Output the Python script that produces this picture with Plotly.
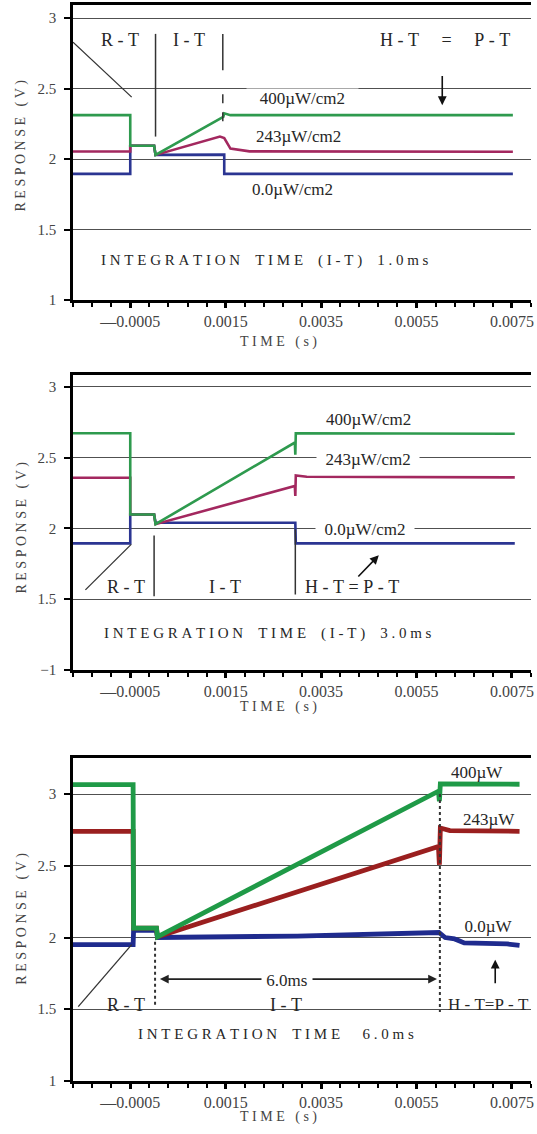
import plotly.graph_objects as go

NB = "\u00a0"
FONT = "Liberation Serif, Times New Roman, DejaVu Serif, serif"
TXT = "#262626"
TICK = "#444444"


def spaced(s, gap=1, word=4):
    return (NB * word).join((NB * gap).join(list(w)) for w in s.split(" "))


def pad(s, n=2):
    return NB * n + s + NB * n


# ---------------- data (time in s, response in V) ----------------
# panel 1 : integration time 1.0 ms
t1_400 = [-0.0017, -0.0005, -0.0005, 0.0000, 0.00003, 0.00145, 0.00147, 0.0016, 0.00752]
v1_400 = [2.312, 2.312, 2.095, 2.095, 2.030, 2.300, 2.325, 2.312, 2.312]
t1_243 = [-0.0017, -0.0005, -0.0005, 0.0000, 0.00003, 0.00138, 0.00147, 0.0016, 0.0020, 0.00752]
v1_243 = [2.054, 2.054, 2.095, 2.095, 2.030, 2.160, 2.150, 2.075, 2.055, 2.052]
t1_0 = [-0.0017, -0.0005, -0.0005, 0.0000, 0.00003, 0.00147, 0.00147, 0.00752]
v1_0 = [1.895, 1.895, 2.095, 2.095, 2.030, 2.032, 1.895, 1.895]

# panel 2 : integration time 3.0 ms
t2_400 = [-0.0017, -0.0005, -0.0005, 0.0000, 0.00003, 0.00295, 0.00296, 0.00297, 0.00756]
v2_400 = [2.672, 2.672, 2.098, 2.098, 2.030, 2.606, 2.520, 2.672, 2.668]
t2_243 = [-0.0017, -0.0005, -0.0005, 0.0000, 0.00003, 0.00295, 0.00296, 0.00297, 0.0032, 0.00756]
v2_243 = [2.358, 2.358, 2.098, 2.098, 2.030, 2.299, 2.229, 2.373, 2.365, 2.360]
t2_0 = [-0.0017, -0.0005, -0.0005, 0.0000, 0.00003, 0.00296, 0.00297, 0.00756]
v2_0 = [1.894, 1.894, 2.098, 2.098, 2.040, 2.040, 1.894, 1.894]

# panel 3 : integration time 6.0 ms
t3_400 = [-0.0017, -0.00044, -0.00043, 0.00005, 0.00007, 0.00596, 0.00598, 0.00600, 0.00766]
v3_400 = [3.065, 3.065, 2.065, 2.065, 2.005, 3.020, 2.950, 3.070, 3.068]
t3_243 = [-0.0017, -0.00044, -0.00043, 0.00005, 0.00007, 0.00596, 0.00598, 0.00600, 0.0062, 0.00766]
v3_243 = [2.740, 2.740, 2.065, 2.065, 2.005, 2.635, 2.507, 2.763, 2.745, 2.740]
t3_0 = [-0.0017, -0.00044, -0.00043, 0.00005, 0.00007, 0.0030, 0.00597, 0.0061, 0.0063, 0.0065, 0.0074, 0.00766]
v3_0 = [1.950, 1.950, 2.050, 2.050, 2.000, 2.010, 2.035, 2.000, 1.990, 1.962, 1.955, 1.945]

series_names = ["0.0µW/cm2", "243µW/cm2", "400µW/cm2"]
x_tickvals = [-0.0005, 0.0015, 0.0035, 0.0055, 0.0075]
x_ticktext = ["—0.0005", "0.0015", "0.0035", "0.0055", "0.0075"]
y_tickvals = [1, 1.5, 2, 2.5, 3]
y_ticktext_12 = ["1", "1.5", "2", "2.5", "3"]
y_ticktext_2 = ["−1", "1.5", "2", "2.5", "3"]

XMIN, XMAX = -0.0017, 0.0079
panels = [
    dict(t=[t1_0, t1_243, t1_400], v=[v1_0, v1_243, v1_400], top=3.094,
         dom=[0.73545, 0.99559], ytext=y_ticktext_12,
         colors=["#2b3592", "#a3285f", "#2e9a4e"], width=2.6),
    dict(t=[t2_0, t2_243, t2_400], v=[v2_0, v2_243, v2_400], top=3.083,
         dom=[0.40917, 0.66931], ytext=y_ticktext_2,
         colors=["#2b3592", "#a3285f", "#2e9a4e"], width=2.6),
    dict(t=[t3_0, t3_243, t3_400], v=[v3_0, v3_243, v3_400], top=3.251,
         dom=[0.04674, 0.33157], ytext=y_ticktext_12,
         colors=["#1f2b8e", "#9a1f1f", "#1f9a47"], width=4.8),
]

fig = go.Figure()
layout = {}
for i, p in enumerate(panels):
    sx = "" if i == 0 else str(i + 1)
    for k in range(3):
        fig.add_trace(go.Scatter(
            x=p["t"][k], y=p["v"][k], mode="lines", name=series_names[k],
            line=dict(color=p["colors"][k], width=p["width"]),
            xaxis="x" + sx, yaxis="y" + sx, showlegend=False, hoverinfo="skip"))
    layout["xaxis" + sx] = dict(
        domain=[0, 1], anchor="y" + sx, range=[XMIN, XMAX], automargin=False,
        showgrid=False, zeroline=False, showline=True, linecolor="black",
        linewidth=2.5, mirror=True,
        tickmode="array", tickvals=x_tickvals, ticktext=x_ticktext,
        ticks="outside", ticklen=5, tickwidth=3, tickcolor="black",
        tickfont=dict(family=FONT, size=16, color=TICK),
        ticklabelstandoff=0, ticklabeloverflow="allow",
        minor=dict(tick0=XMIN, dtick=0.0004, ticks="outside", ticklen=4,
                   tickwidth=1.5, tickcolor="black", showgrid=False))
    # overlay axis giving the upward half of the crossing ticks
    layout["xaxis" + str(i + 4)] = dict(
        overlaying="x" + sx, anchor="y" + sx, range=[XMIN, XMAX], automargin=False,
        showgrid=False, zeroline=False, showline=False, showticklabels=False,
        tickmode="array", tickvals=x_tickvals, ticks="inside", ticklen=4,
        tickwidth=1.5, tickcolor="black",
        minor=dict(tick0=XMIN, dtick=0.0004, ticks="inside", ticklen=4,
                   tickwidth=1.5, tickcolor="black", showgrid=False))
    layout["yaxis" + sx] = dict(
        domain=p["dom"], anchor="x" + sx, range=[1, p["top"]], automargin=False,
        showgrid=True, gridcolor="#505050", gridwidth=1.4, zeroline=False,
        showline=True, linecolor="black", linewidth=2.5,
        tickmode="array", tickvals=y_tickvals, ticktext=p["ytext"],
        ticks="outside", ticklen=6, tickwidth=1.5, tickcolor="black",
        tickfont=dict(family=FONT, size=15, color=TICK), ticklabelstandoff=5)

shapes = []


def seg(ax, x0, y0, x1, y1, width=1.3, dash="solid", color="#333333"):
    sx = "" if ax == 1 else str(ax)
    shapes.append(dict(type="line", xref="x" + sx, yref="y" + sx, x0=x0, y0=y0,
                       x1=x1, y1=y1, layer="above",
                       line=dict(color=color, width=width, dash=dash)))


# panel 1 markers
seg(1, -0.0017, 2.83, -0.00047, 2.44)
seg(1, 0.00003, 2.889, 0.00003, 2.16, 1.5)
seg(1, 0.00144, 2.889, 0.00144, 2.63, 1.5)
seg(1, 0.00144, 2.46, 0.00144, 2.22, 1.5, "dash")
# panel 2 markers
seg(2, -0.00144, 1.566, -0.00048, 1.887)
seg(2, 0.0000, 1.95, 0.0000, 1.52, 1.5)
seg(2, 0.00296, 1.993, 0.00296, 1.533, 1.5)
# panel 3 markers
seg(3, -0.00159, 1.518, -0.00047, 1.95)
seg(3, 0.00002, 1.97, 0.00002, 1.52, 2, "dot")
seg(3, 0.00599, 3.0, 0.00599, 1.48, 2, "dot")

annotations = []


def txt(ax, x, y, text, size=17, bg=None, xanchor="center"):
    sx = "" if ax == 1 else str(ax)
    d = dict(xref="x" + sx, yref="y" + sx, x=x, y=y, text=text, showarrow=False,
             xanchor=xanchor, yanchor="middle",
             font=dict(family=FONT, size=size, color=TXT))
    if bg:
        d.update(bgcolor=bg, borderpad=0)
    annotations.append(d)


def arrow(ax, x_head, y_head, x_tail, y_tail, both=False, color="#111111"):
    sx = "" if ax == 1 else str(ax)
    annotations.append(dict(
        xref="x" + sx, yref="y" + sx, axref="x" + sx, ayref="y" + sx,
        x=x_head, y=y_head, ax=x_tail, ay=y_tail, text="", showarrow=True,
        arrowhead=2, arrowsize=1.1, arrowwidth=1.6, arrowcolor=color,
        arrowside="end+start" if both else "end", standoff=0, startstandoff=0))


RT, IT = "R" + NB + "-" + NB + "T", "I" + NB + "-" + NB + "T"
HT = "H" + NB + "-" + NB + "T"
PT = "P" + NB + "-" + NB + "T"

# panel 1 text
txt(1, -0.00071, 2.847, RT, 18)
txt(1, 0.000724, 2.847, IT, 18)
txt(1, 0.0061, 2.847, HT + NB * 5 + "=" + NB * 5 + PT, 18)
arrow(1, 0.00604, 2.383, 0.00604, 2.60)
txt(1, 0.00312, 2.43, pad("400µW/cm2", 3), 17, "white")
txt(1, 0.00303, 2.16, "243µW/cm2", 17)
txt(1, 0.0029, 1.783, "0.0µW/cm2", 17)
txt(1, 0.00232, 1.277, spaced("INTEGRATION TIME (I-T) 1.0ms"), 15)

# panel 2 text
txt(2, 0.0045, 2.77, "400µW/cm2", 17)
txt(2, 0.00448, 2.488, pad("243µW/cm2"), 17, "white")
txt(2, 0.00442, 1.993, pad("0.0µW/cm2"), 17, "white")
txt(2, -0.00058, 1.589, RT, 18)
txt(2, 0.00149, 1.589, IT, 18)
txt(2, 0.00414, 1.589, HT + NB + "=" + NB + PT, 18)
arrow(2, 0.00471, 1.81, 0.00425, 1.65)
txt(2, 0.00239, 1.255, spaced("INTEGRATION TIME (I-T) 3.0ms"), 15)

# panel 3 text
txt(3, 0.00676, 3.147, "400µW", 17)
txt(3, 0.00702, 2.82, "243µW", 17)
txt(3, 0.0070, 2.077, pad("0.0µW"), 17, "white")
arrow(3, 0.00715, 1.845, 0.00715, 1.67)
txt(3, 0.00612, 1.53, HT + "=" + PT, 17, xanchor="left")
arrow(3, 0.00593, 1.71, 0.00009, 1.71, both=True, color="#222222")
txt(3, 0.00278, 1.70, pad("6.0ms", 1), 17, "white")
txt(3, -0.00058, 1.53, RT, 18)
txt(3, 0.00276, 1.53, IT, 18)
txt(3, 0.00255, 1.33, spaced("INTEGRATION TIME") + NB * 6 + spaced("6.0ms"), 15)

# axis titles
for yc in [0.8717, 0.5348, 0.1899]:
    annotations.append(dict(xref="paper", yref="paper", x=-0.1114, y=yc,
                            text=spaced("RESPONSE (V)", 1, 3), textangle=-90,
                            showarrow=False, xanchor="center", yanchor="middle",
                            font=dict(family=FONT, size=14, color=TICK)))
for ypx in [342, 707, 1117]:
    annotations.append(dict(xref="paper", yref="paper", x=0.4476, y=1 - ypx / 1134,
                            text=spaced("TIME (s)", 1, 3), showarrow=False,
                            xanchor="center", yanchor="middle",
                            font=dict(family=FONT, size=14, color=TICK)))

fig.update_layout(
    template="none", width=537, height=1134, autosize=False,
    margin=dict(l=73, r=6, t=0, b=0, pad=0),
    font=dict(family=FONT),
    paper_bgcolor="white", plot_bgcolor="white", showlegend=False,
    shapes=shapes, annotations=annotations, **layout)

fig.write_html("out.html")
